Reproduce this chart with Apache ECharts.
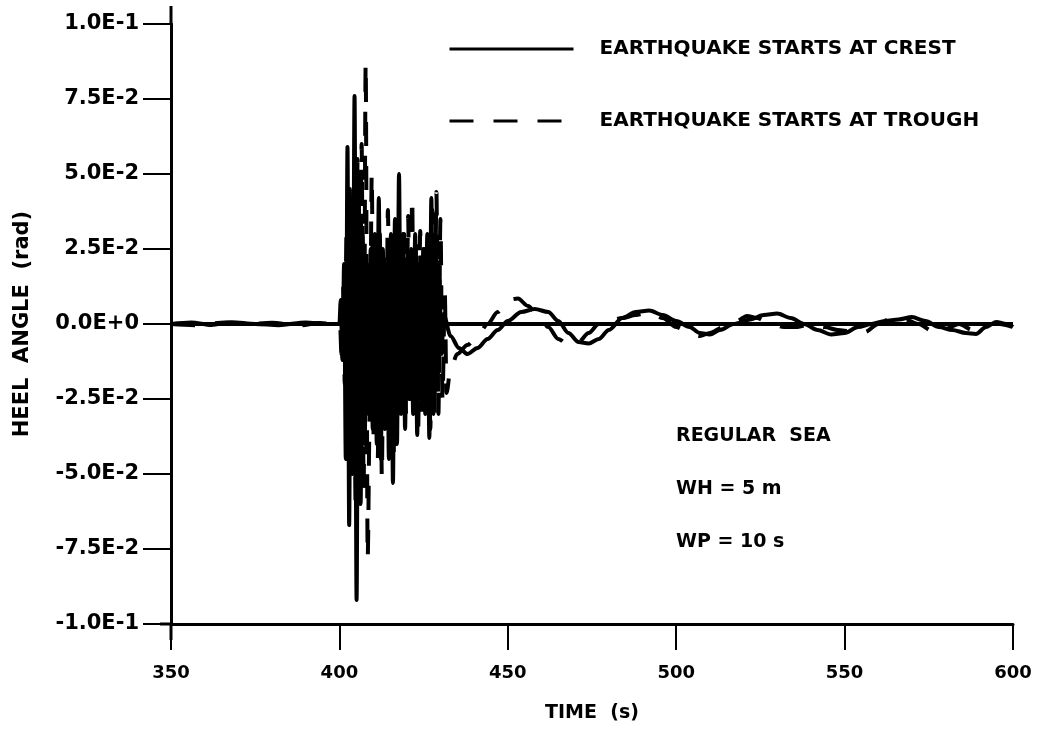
<!DOCTYPE html>
<html>
<head>
<meta charset="utf-8">
<script src="https://cdn.jsdelivr.net/npm/echarts@6/dist/echarts.min.js"></script>
<style>
html,body{margin:0;padding:0;background:#fff;}
#chart{width:1042px;height:742px;}
</style>
</head>
<body>
<div id="chart"></div>
<script>
// ---- data ----
const crestTime = [350,356,362,368,375,382,390,396,399.5,
  400.0,400.4,400.9,401.4,401.9,402.4,402.9,403.4,403.9,404.5,405.1,405.7,406.3,406.9,407.5,408.1,408.7,409.3,409.9,410.5,
  411.1,411.7,412.3,412.9,413.5,414.1,414.7,415.3,415.9,416.5,417.1,417.7,418.3,418.9,419.5,420.1,420.7,421.3,421.9,422.5,
  423.1,423.7,424.3,424.9,425.5,426.1,426.7,427.3,427.9,428.5,429.1,429.7,430.3,431.0,
  433,435.5,438,441,444,447,450,454,458,462,465,468,471,474,477,480,484,488,492,496,
  500,504,507,510,513,517,522,526,530,534,538,542,546,550,554,558,562,566,570,574,578,582,586,589,592,595,598,600];
const crestValue = [0,0.0005,-0.0003,0.0006,0,-0.0004,0.0005,0,0,
  0.000,0.008,-0.012,0.020,-0.045,0.059,-0.067,0.040,-0.050,0.076,-0.092,0.050,-0.060,0.030,-0.040,0.020,-0.030,0.025,-0.035,0.030,
  -0.040,0.042,-0.045,0.025,-0.035,0.020,-0.045,0.030,-0.053,0.035,-0.040,0.050,-0.030,0.030,-0.035,0.020,-0.025,0.025,-0.030,0.030,
  -0.037,0.020,-0.025,0.025,-0.030,0.030,-0.038,0.042,-0.030,0.030,-0.020,0.015,-0.010,0.003,
  -0.004,-0.008,-0.010,-0.008,-0.005,-0.002,0.001,0.004,0.005,0.004,0.001,-0.003,-0.006,-0.0065,-0.005,-0.002,0.002,0.004,0.0045,0.003,
  0.001,-0.001,-0.003,-0.0035,-0.002,0.000,0.0015,0.003,0.0035,0.002,0.000,-0.002,-0.0035,-0.003,-0.001,0.000,0.001,0.0015,0.0023,0.001,-0.001,-0.002,-0.003,-0.0033,-0.001,0.0007,0.000,-0.001];

const troughTime = [350,358,366,372,380,388,394,399,
  400.2,400.6,401.1,401.6,402.1,402.6,403.1,403.6,404.2,404.8,405.4,406.0,406.6,407.2,407.8,408.4,409.0,409.6,410.2,410.8,
  411.4,412.0,412.6,413.2,413.8,414.4,415.0,415.6,416.2,416.8,417.4,418.0,418.6,419.2,419.8,420.4,421.0,421.6,422.2,422.8,
  423.4,424.0,424.6,425.2,425.8,426.4,427.0,427.6,428.2,428.8,429.4,430.0,430.6,431.3,431.8,
  433,435,438,441,444,447,450,453,456,459,462,465,468,471,474,477,480,484,488,492,496,
  500,504,507,510,514,518,521,524,528,532,536,540,544,548,552,556,560,564,568,572,576,580,584,588,592,596,600];
const troughValue = [0,-0.0004,0.0005,0,0.0004,-0.0005,0.0003,0,
  0.000,-0.010,0.012,-0.020,0.030,-0.040,0.045,-0.050,0.040,-0.060,0.055,-0.050,0.060,-0.055,0.087,-0.078,-0.030,0.050,-0.040,0.025,
  -0.045,0.030,-0.051,0.025,-0.030,0.038,-0.035,0.030,-0.045,0.025,-0.030,0.020,-0.025,0.030,-0.030,0.036,-0.025,0.042,-0.030,0.028,
  -0.035,0.031,-0.030,0.025,-0.028,0.030,-0.035,0.038,-0.030,0.044,-0.030,0.035,-0.025,0.010,-0.023,
  -0.015,-0.010,-0.007,-0.004,0.000,0.004,0.008,0.0085,0.006,0.003,-0.001,-0.005,-0.007,-0.006,-0.003,0.000,0.001,0.002,0.003,0.004,0.002,
  -0.001,-0.003,-0.004,-0.003,-0.001,0.001,0.0027,0.002,0.000,-0.001,-0.001,0.000,-0.001,-0.002,-0.0025,-0.0027,0.000,0.002,0.0015,0.000,-0.0023,-0.0015,0.000,-0.002,0.000,0.000,-0.001];

const seriesNames = ['EARTHQUAKE STARTS AT CREST', 'EARTHQUAKE STARTS AT TROUGH'];
const xTickValues = [350,400,450,500,550,600];
const yTickValues = [-0.1,-0.075,-0.05,-0.025,0,0.025,0.05,0.075,0.1];
const yTickLabels = ['-1.0E-1','-7.5E-2','-5.0E-2','-2.5E-2','0.0E+0','2.5E-2','5.0E-2','7.5E-2','1.0E-1'];
const noteLines = ['REGULAR  SEA', 'WH = 5 m', 'WP = 10 s'];

// ---- chart ----
const zip = (t, v) => t.map((x, i) => [x, v[i]]);
const FONT = 'DejaVu Sans';
const chart = echarts.init(document.getElementById('chart'), null, {renderer: 'canvas'});
chart.setOption({
  backgroundColor: '#ffffff',
  animation: false,
  grid: {left: 171, right: 29, top: 24, bottom: 118, containLabel: false, outerBoundsMode: 'none'},
  legend: {
    orient: 'vertical', left: 443, top: 34,
    itemWidth: 124, itemHeight: 14, itemGap: 52,
    itemStyle: {opacity: 0},
    lineStyle: {width: 3},
    textStyle: {fontFamily: FONT, fontWeight: 'bold', fontSize: 20, color: '#000', padding: [0,0,0,21]},
    data: seriesNames
  },
  xAxis: {
    type: 'value', min: 350, max: 600, interval: 50,
    name: 'TIME  (s)', nameLocation: 'middle', nameGap: 80,
    nameTextStyle: {fontFamily: FONT, fontWeight: 'bold', fontSize: 19, color: '#000'},
    axisLine: {show: true, onZero: false, lineStyle: {color: '#000', width: 3}},
    axisTick: {show: true, inside: false, length: 26, lineStyle: {color: '#000', width: 2}},
    axisLabel: {margin: 40, fontFamily: FONT, fontWeight: 'bold', fontSize: 18, color: '#000',
      formatter: v => xTickValues.indexOf(v) >= 0 ? String(v) : ''},
    splitLine: {show: false}
  },
  yAxis: {
    type: 'value', min: -0.1, max: 0.1, interval: 0.025,
    name: 'HEEL  ANGLE  (rad)', nameLocation: 'middle', nameGap: 138, nameRotate: 90,
    nameTextStyle: {fontFamily: FONT, fontWeight: 'bold', fontSize: 21, color: '#000'},
    axisLine: {show: true, lineStyle: {color: '#000', width: 3}},
    axisTick: {show: true, inside: false, length: 28, lineStyle: {color: '#000', width: 2}},
    axisLabel: {margin: 32, fontFamily: FONT, fontWeight: 'bold', fontSize: 21, color: '#000',
      formatter: v => { const i = yTickValues.findIndex(t => Math.abs(t - v) < 1e-9); return i >= 0 ? yTickLabels[i] : ''; }},
    splitLine: {show: false}
  },
  series: [
    {
      name: seriesNames[0], type: 'line', data: zip(crestTime, crestValue),
      symbol: 'none', showSymbol: false, smooth: 0.3, smoothMonotone: 'x',
      lineStyle: {color: '#000', width: 4, type: 'solid'},
      itemStyle: {color: '#000'},
      markLine: {silent: true, symbol: ['none','none'], label: {show: false},
        lineStyle: {color: '#000', width: 4, type: 'solid'}, data: [{yAxis: 0}]}
    },
    {
      name: seriesNames[1], type: 'line', data: zip(troughTime, troughValue),
      symbol: 'none', showSymbol: false, smooth: 0.3, smoothMonotone: 'x',
      lineStyle: {color: '#000', width: 4, type: [24, 20]},
      itemStyle: {color: '#000'}
    }
  ],
  graphic: noteLines.map((t, i) => ({
    type: 'text', left: 676, top: 427 + i * 53,
    style: {text: t, fontFamily: FONT, fontWeight: 'bold', fontSize: 19, fill: '#000'}
  }))
});

// axis lines in the original run a little past the plot frame
const pTop = chart.convertToPixel({gridIndex: 0}, [350, 0.1]);
const pBot = chart.convertToPixel({gridIndex: 0}, [350, -0.1]);
chart.setOption({
  graphic: noteLines.map(() => ({})).concat([
    {type: 'line', shape: {x1: pTop[0], y1: pTop[1] - 18, x2: pTop[0], y2: pTop[1]}, style: {stroke: '#000', lineWidth: 3}},
    {type: 'line', shape: {x1: pBot[0], y1: pBot[1], x2: pBot[0], y2: pBot[1] + 16}, style: {stroke: '#000', lineWidth: 3}},
    {type: 'line', shape: {x1: pBot[0] - 11, y1: pBot[1], x2: pBot[0], y2: pBot[1]}, style: {stroke: '#000', lineWidth: 3}}
  ])
});
</script>
</body>
</html>
